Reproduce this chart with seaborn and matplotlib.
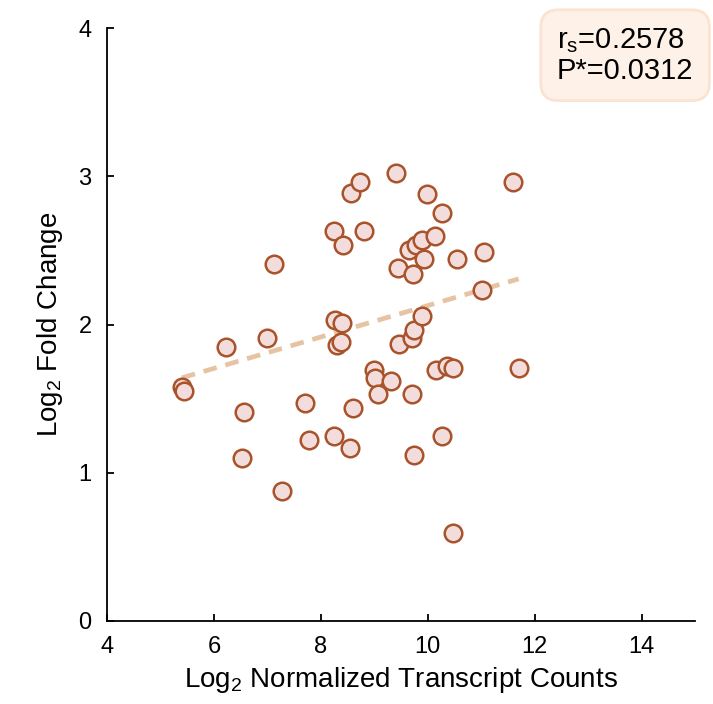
import matplotlib as mpl
mpl.use('agg')
import matplotlib.pyplot as plt
import seaborn as sns
import pandas as pd
import numpy as np

# Log2 normalized transcript counts (x) and log2 fold change (y)
counts = [5.40, 5.45, 6.22, 6.56, 6.52, 7.13, 6.99, 7.27, 7.71, 7.78,
          8.24, 8.26, 8.39, 8.31, 8.38, 8.41, 8.56, 8.73, 8.81, 8.24,
          8.55, 8.60, 8.99, 9.02, 9.31, 9.07, 9.40, 9.45, 9.46, 9.70,
          9.74, 9.65, 9.72, 9.77, 9.89, 9.93, 9.89, 9.70, 9.75, 9.98,
          10.14, 10.26, 10.15, 10.36, 10.47, 10.26, 10.54, 10.47, 11.05, 11.02,
          11.59, 11.70]
fold_change = [1.58, 1.55, 1.85, 1.41, 1.10, 2.41, 1.91, 0.88, 1.47, 1.22,
               2.63, 2.03, 2.01, 1.86, 1.88, 2.54, 2.89, 2.96, 2.63, 1.25,
               1.17, 1.44, 1.69, 1.64, 1.62, 1.53, 3.02, 2.38, 1.87, 1.91,
               1.96, 2.50, 2.34, 2.54, 2.57, 2.44, 2.06, 1.53, 1.12, 2.88,
               2.60, 2.75, 1.69, 1.72, 1.71, 1.25, 2.44, 0.59, 2.49, 2.23,
               2.96, 1.71]
# trend line as drawn in the figure
fit_slope = 0.106
fit_intercept = 1.068
stats_text = "r$_\\mathregular{s}$=0.2578\nP*=0.0312"

df = pd.DataFrame({"x": counts, "y": fold_change})
fit_x = np.array([min(counts), max(counts)])
fit = pd.DataFrame({"x": fit_x, "y": fit_intercept + fit_slope * fit_x})

sns.set_style("ticks")
plt.rcParams['font.family'] = ['Liberation Sans', 'DejaVu Sans']
plt.rcParams['text.color'] = 'black'
plt.rcParams['axes.labelcolor'] = 'black'

fig = plt.figure(figsize=(7.13, 7.04), dpi=100)
ax = fig.add_axes([0.150, 0.118, 0.825, 0.842])

sns.lineplot(data=fit, x="x", y="y", ax=ax, color="#e6c3a3", lw=3.4,
             dashes=False, ls=(0, (2.9, 1.9)), solid_capstyle="round")
sns.scatterplot(data=df, x="x", y="y", ax=ax, s=160, color="#f3dcdc",
                edgecolor="#a9532b", linewidth=1.8, zorder=3)

ax.set_xlim(4, 15)
ax.set_ylim(0, 4)
ax.set_xticks([4, 6, 8, 10, 12, 14])
ax.set_yticks([0, 1, 2, 3, 4])
sns.despine(ax=ax)
for s in ["left", "bottom"]:
    ax.spines[s].set_linewidth(1.3)
    ax.spines[s].set_color("black")
ax.tick_params(direction="in", length=5, width=1.3, labelsize=17, pad=11, colors="black")
ax.set_xlabel("Log$_\\mathregular{2}$ Normalized Transcript Counts", fontsize=20, labelpad=5)
ax.set_ylabel("Log$_\\mathregular{2}$ Fold Change", fontsize=20, labelpad=10)

fig.text(0.781, 0.921, stats_text, fontsize=21, va="center", ha="left", linespacing=1.05,
         bbox=dict(boxstyle="round,pad=0.55,rounding_size=0.6", fc="#fdf1e8", ec="#fbe3d2", lw=2))

plt.savefig("out.png", dpi=100)
plt.close()
